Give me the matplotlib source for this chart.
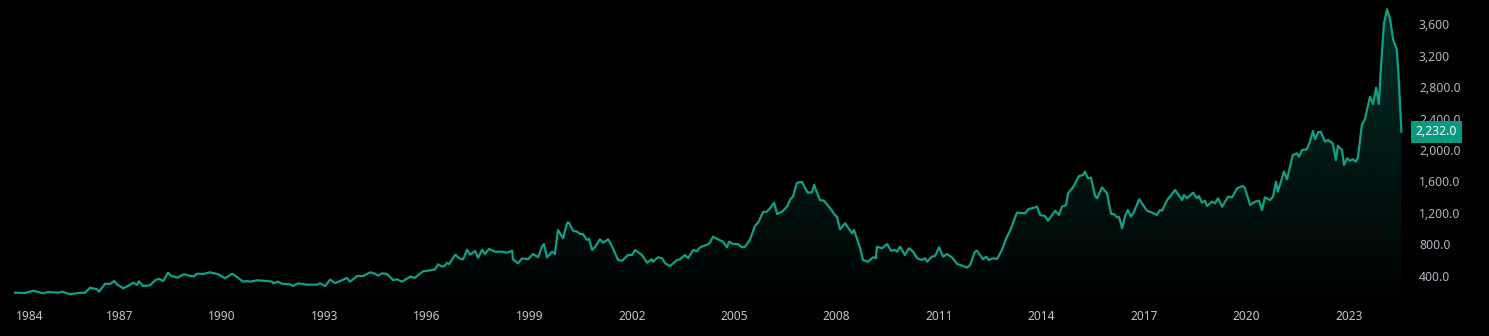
import numpy as np
import matplotlib.pyplot as plt
import matplotlib.transforms as mtransforms
from matplotlib.patches import PathPatch

# valores (ano decimal, preço)
years = [
    1983.94, 1984.23, 1984.47, 1984.76, 1984.91, 1985.20, 1985.32, 1985.55, 1985.79, 1985.99,
    1986.14, 1986.34, 1986.40, 1986.58, 1986.72, 1986.84, 1986.93, 1987.10, 1987.25, 1987.40,
    1987.51, 1987.57, 1987.69, 1987.89, 1988.07, 1988.16, 1988.28, 1988.42, 1988.51, 1988.69,
    1988.89, 1989.07, 1989.18, 1989.27, 1989.45, 1989.65, 1989.89, 1990.09, 1990.30, 1990.44,
    1990.62, 1990.74, 1990.82, 1991.03, 1991.32, 1991.47, 1991.50, 1991.64, 1991.76, 1991.99,
    1992.08, 1992.23, 1992.49, 1992.78, 1992.87, 1993.02, 1993.17, 1993.31, 1993.46, 1993.66,
    1993.75, 1993.96, 1994.13, 1994.34, 1994.48, 1994.57, 1994.69, 1994.83, 1995.01, 1995.13,
    1995.27, 1995.51, 1995.65, 1995.89, 1996.04, 1996.24, 1996.33, 1996.45, 1996.53, 1996.59,
    1996.65, 1996.83, 1996.97, 1997.06, 1997.18, 1997.27, 1997.41, 1997.50, 1997.62, 1997.70,
    1997.82, 1998.00, 1998.20, 1998.35, 1998.50, 1998.52, 1998.67, 1998.79, 1998.96, 1999.11,
    1999.26, 1999.37, 1999.43, 1999.52, 1999.67, 1999.75, 1999.84, 1999.99, 2000.11, 2000.16,
    2000.28, 2000.40, 2000.49, 2000.57, 2000.69, 2000.75, 2000.84, 2000.93, 2001.07, 2001.16,
    2001.31, 2001.45, 2001.60, 2001.72, 2001.89, 2002.01, 2002.10, 2002.30, 2002.45, 2002.59,
    2002.62, 2002.77, 2002.89, 2002.98, 2003.12, 2003.33, 2003.41, 2003.56, 2003.65, 2003.80,
    2003.91, 2004.00, 2004.21, 2004.29, 2004.38, 2004.59, 2004.67, 2004.79, 2004.85, 2004.97,
    2005.11, 2005.23, 2005.32, 2005.46, 2005.61, 2005.70, 2005.85, 2005.96, 2006.05, 2006.17,
    2006.26, 2006.40, 2006.55, 2006.64, 2006.72, 2006.84, 2006.99, 2007.08, 2007.16, 2007.28,
    2007.34, 2007.51, 2007.63, 2007.81, 2007.95, 2008.01, 2008.10, 2008.25, 2008.45, 2008.51,
    2008.69, 2008.77, 2008.92, 2009.07, 2009.15, 2009.18, 2009.33, 2009.48, 2009.59, 2009.71,
    2009.77, 2009.86, 2010.00, 2010.12, 2010.24, 2010.36, 2010.50, 2010.59, 2010.65, 2010.79,
    2010.88, 2011.00, 2011.12, 2011.23, 2011.38, 2011.53, 2011.70, 2011.82, 2011.91, 2012.05,
    2012.11, 2012.29, 2012.38, 2012.46, 2012.58, 2012.70, 2012.84, 2012.99, 2013.08, 2013.28,
    2013.52, 2013.61, 2013.87, 2013.96, 2014.10, 2014.19, 2014.40, 2014.51, 2014.60, 2014.72,
    2014.78, 2014.92, 2015.10, 2015.22, 2015.27, 2015.36, 2015.45, 2015.57, 2015.63, 2015.77,
    2015.92, 2016.04, 2016.12, 2016.21, 2016.27, 2016.36, 2016.45, 2016.53, 2016.62, 2016.71,
    2016.86, 2017.09, 2017.24, 2017.38, 2017.47, 2017.53, 2017.68, 2017.76, 2017.91, 2018.12,
    2018.17, 2018.26, 2018.44, 2018.55, 2018.61, 2018.70, 2018.79, 2018.85, 2018.99, 2019.08,
    2019.17, 2019.29, 2019.46, 2019.58, 2019.73, 2019.90, 2019.96, 2020.11, 2020.25, 2020.37,
    2020.46, 2020.54, 2020.69, 2020.78, 2020.87, 2020.92, 2021.10, 2021.19, 2021.36, 2021.48,
    2021.54, 2021.63, 2021.77, 2021.86, 2021.95, 2022.01, 2022.10, 2022.18, 2022.30, 2022.39,
    2022.53, 2022.62, 2022.68, 2022.80, 2022.86, 2022.95, 2023.03, 2023.12, 2023.21, 2023.27,
    2023.38, 2023.47, 2023.62, 2023.71, 2023.80, 2023.88, 2023.94, 2024.03, 2024.12, 2024.21,
    2024.30, 2024.40, 2024.45, 2024.54,
]
values = [
    188, 184, 213, 180, 197, 188, 201, 168, 184, 188,
    251, 231, 201, 302, 298, 336, 294, 244, 273, 315,
    286, 332, 273, 282, 353, 362, 336, 442, 404, 378,
    422, 400, 396, 429, 425, 447, 422, 371, 429, 387,
    328, 336, 328, 345, 336, 328, 307, 328, 302, 294,
    273, 307, 290, 290, 307, 273, 353, 311, 336, 375,
    328, 400, 400, 447, 429, 404, 434, 425, 349, 358,
    328, 391, 378, 460, 467, 485, 549, 518, 531, 569,
    549, 671, 620, 612, 734, 671, 718, 632, 734, 679,
    743, 709, 709, 696, 721, 612, 561, 625, 612, 679,
    637, 772, 806, 637, 709, 679, 984, 879, 1077, 1077,
    975, 963, 933, 933, 857, 874, 730, 772, 866, 823,
    866, 752, 603, 594, 667, 667, 730, 667, 569, 612,
    582, 637, 625, 561, 527, 603, 612, 667, 625, 730,
    714, 764, 798, 823, 899, 852, 836, 764, 836, 806,
    806, 764, 772, 857, 1035, 1077, 1213, 1217, 1260, 1331,
    1187, 1217, 1280, 1374, 1407, 1585, 1594, 1514, 1458, 1463,
    1556, 1365, 1356, 1260, 1175, 1153, 993, 1069, 942, 984,
    752, 603, 582, 637, 625, 772, 752, 806, 721, 730,
    709, 772, 667, 752, 709, 625, 603, 625, 582, 645,
    654, 764, 645, 679, 637, 552, 527, 506, 540, 709,
    721, 612, 645, 603, 625, 616, 730, 899, 975, 1204,
    1196, 1247, 1280, 1175, 1162, 1102, 1229, 1175, 1280, 1302,
    1450, 1526, 1670, 1683, 1725, 1641, 1649, 1416, 1387, 1526,
    1450, 1187, 1187, 1145, 1153, 1006, 1162, 1238, 1153, 1217,
    1374, 1229, 1204, 1175, 1238, 1229, 1365, 1407, 1492, 1365,
    1429, 1387, 1458, 1387, 1416, 1331, 1356, 1289, 1344, 1323,
    1387, 1280, 1407, 1399, 1514, 1543, 1514, 1302, 1344, 1356,
    1238, 1399, 1365, 1407, 1598, 1471, 1725, 1628, 1937, 1958,
    1915, 2000, 2009, 2106, 2241, 2136, 2225, 2233, 2106, 2127,
    2085, 1873, 2055, 2000, 1810, 1895, 1864, 1882, 1852, 1915,
    2318, 2390, 2677, 2584, 2791, 2584, 3058, 3609, 3787, 3651,
    3397, 3279, 2995, 2232,
]

tick_years = [1984, 1987, 1990, 1993, 1996, 1999, 2002, 2005, 2008, 2011, 2014, 2017, 2020, 2023]
y_ticks = [400, 800, 1200, 1600, 2000, 2400, 2800, 3200, 3600]
y_labels = ['400.0', '800.0', '1,200.0', '1,600.0', '2,000.0', '2,400.0', '2,800.0', '3,200', '3,600']
last_label = '2,232.0'

plt.rcParams['font.family'] = ['Noto Sans', 'DejaVu Sans']

line_color = '#10a086'
box_color = '#089981'
y_min, y_max = 95, 3905

fig = plt.figure(figsize=(14.89, 3.36), dpi=100, facecolor='black')
ax = fig.add_axes([0, 36 / 336, 1405 / 1489, 300 / 336])
ax.set_facecolor('black')
ax.set_xlim(1983.50, 2024.645)
ax.set_ylim(y_min, y_max)

# preenchimento em degradê por baixo da linha
poly = ax.fill_between(years, values, y_min, color='none', lw=0)
clip = PathPatch(poly.get_paths()[0], transform=ax.transData, facecolor='none', edgecolor='none')
ax.add_patch(clip)
grad = np.zeros((256, 1, 4))
grad[:, 0, 0] = 8 / 255
grad[:, 0, 1] = 153 / 255
grad[:, 0, 2] = 129 / 255
grad[:, 0, 3] = np.linspace(0.02, 0.30, 256)
im = ax.imshow(grad, extent=[years[0], years[-1], y_min, max(values)], origin='lower',
               aspect='auto', interpolation='bilinear', zorder=1)
im.set_clip_path(clip)

ax.plot(years, values, color=line_color, lw=1.6, zorder=2)

for s in ax.spines.values():
    s.set_visible(False)

tick_pos = [tick_years[0] + 0.37] + tick_years[1:]
ax.set_xticks(tick_pos, [str(y) for y in tick_years])
ax.tick_params(axis='x', length=0, pad=7, labelcolor='#c3c6cd', labelsize=8.6)
for lbl in ax.get_xticklabels():
    lbl.set_fontweight('bold')

ax.yaxis.tick_right()
ax.set_yticks(y_ticks, y_labels)
ax.tick_params(axis='y', length=0, pad=10, labelcolor='#b2b5be', labelsize=8.8)

trans = mtransforms.blended_transform_factory(ax.transAxes, ax.transData)
ax.text(1.0075, values[-1], last_label, transform=trans, ha='left', va='center',
        color='white', fontsize=8.8, fontweight='bold', clip_on=False, zorder=5,
        bbox=dict(boxstyle='square,pad=0.38', fc=box_color, ec='none'))

fig.savefig('out.png', dpi=100, facecolor='black')
